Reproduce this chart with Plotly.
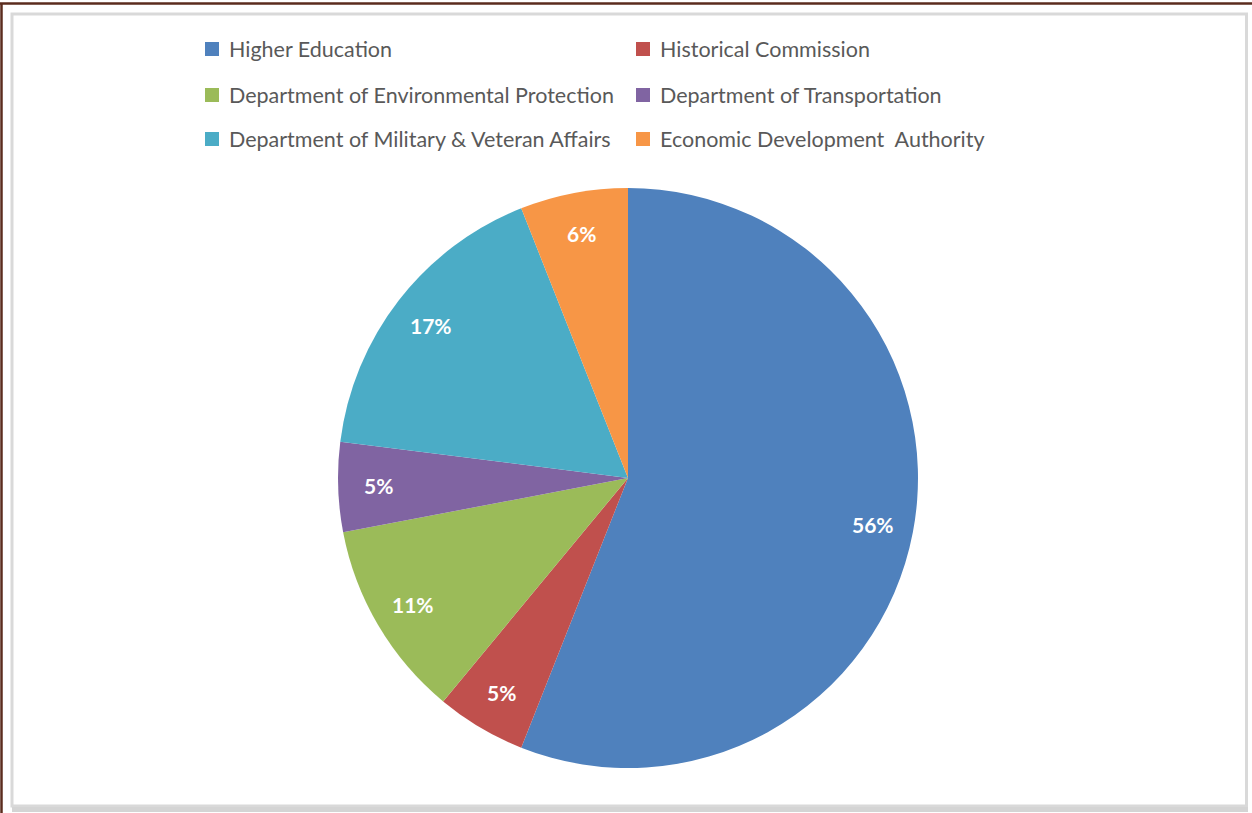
import math
import plotly.graph_objects as go

# ---- data ----
categories = [
    "Higher Education",
    "Historical Commission",
    "Department of Environmental Protection",
    "Department of Transportation",
    "Department of Military & Veteran Affairs",
    "Economic Development  Authority",
]
shares = [56, 5, 11, 5, 17, 6]
colors = ["#4F81BD", "#C0504D", "#9BBB59", "#8064A2", "#4BACC6", "#F79646"]

# ---- layout geometry (pixels) ----
W, H = 1252, 813
CX, CY, R = 628, 478, 290
FONT = "Lato, 'Open Sans', sans-serif"

def px_to_paper(x, y):
    return x / W, 1 - y / H

dx0, dy1 = px_to_paper(CX - R, CY - R)
dx1, dy0 = px_to_paper(CX + R, CY + R)

fig = go.Figure()
fig.add_trace(go.Pie(
    labels=categories,
    values=shares,
    sort=False,
    direction="clockwise",
    rotation=0,
    marker=dict(colors=colors, line=dict(width=0)),
    textinfo="none",
    hoverinfo="label+percent",
    showlegend=False,
    domain=dict(x=[dx0, dx1], y=[dy0, dy1]),
))

annotations = []
shapes = []

# data labels placed toward the outer end of each slice
total = sum(shares)
cum = 0.0
for v in shares:
    mid = (cum + v / 2) / total * 2 * math.pi
    cum += v
    r = 0.86 * R
    x, y = px_to_paper(CX + r * math.sin(mid), CY - r * math.cos(mid))
    annotations.append(dict(
        x=x, y=y, xref="paper", yref="paper", showarrow=False,
        text=f"<b>{round(v / total * 100)}%</b>",
        font=dict(family=FONT, size=21, color="white"),
        xanchor="center", yanchor="middle",
    ))

# legend (two columns, three rows)
col_x = [205, 636]
row_y = [49, 95, 139]
sq = 14
for i, (lab, col) in enumerate(zip(categories, colors)):
    cx = col_x[i % 2]
    cy = row_y[i // 2]
    x0, y0 = px_to_paper(cx, cy - sq / 2)
    x1, y1 = px_to_paper(cx + sq, cy + sq / 2)
    shapes.append(dict(type="rect", xref="paper", yref="paper",
                       x0=x0, x1=x1, y0=y1, y1=y0,
                       fillcolor=col, line=dict(width=0)))
    tx, ty = px_to_paper(cx + sq + 8, cy)
    annotations.append(dict(
        x=tx, y=ty, xref="paper", yref="paper", showarrow=False,
        text=lab, xanchor="left", yanchor="middle",
        font=dict(family=FONT, size=21.5, color="#595959"),
    ))

# frame: dark brown outer lines and light grey inner chart box
def line(xa, ya, xb, yb, color, width):
    a = px_to_paper(xa, ya)
    b = px_to_paper(xb, yb)
    shapes.append(dict(type="line", xref="paper", yref="paper",
                       x0=a[0], y0=a[1], x1=b[0], y1=b[1],
                       line=dict(color=color, width=width)))

line(0, 3.5, W, 3.5, "#5B2C1E", 2.5)
line(1.5, 3, 1.5, H, "#5B2C1E", 2.5)
bx0, by0 = px_to_paper(12, 14)
bx1, by1 = px_to_paper(1246.5, 806)
shapes.append(dict(type="rect", xref="paper", yref="paper",
                   x0=bx0, x1=bx1, y0=by1, y1=by0,
                   line=dict(color="#D9D9D9", width=3),
                   fillcolor="rgba(0,0,0,0)", layer="below"))
line(12, 809.5, 1248, 809.5, "#D4D4D4", 5)

fig.update_layout(
    width=W, height=H,
    margin=dict(l=0, r=0, t=0, b=0),
    paper_bgcolor="white",
    plot_bgcolor="white",
    annotations=annotations,
    shapes=shapes,
    showlegend=False,
)

fig.write_html(
    "out.html",
    config={"displayModeBar": False},
    post_script="document.body.style.margin='0';document.body.style.overflow='hidden';",
)
